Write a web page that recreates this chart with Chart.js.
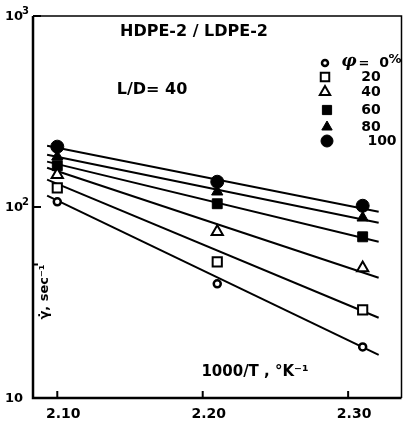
<!DOCTYPE html>
<html>
<head>
<meta charset="utf-8">
<script src="https://cdn.jsdelivr.net/npm/chart.js@4/dist/chart.umd.min.js"></script>
<style>
  body { margin: 0; background: #fff; }
</style>
</head>
<body>
<canvas id="mainChart" width="410" height="422"></canvas>
<script>
// temperatures (1000/T) where shear rate was measured
const xValues = [2.10, 2.21, 2.31];

// measured shear rates, sec^-1, one array per blend ratio
const phi0 = [106.5, 39.6, 18.5];
const phi20 = [126, 51.6, 28.9];
const phi40 = [147.6, 74.2, 48.0];
const phi60 = [164.5, 104, 69.8];
const phi80 = [183.4, 120.2, 87.8];
const phi100 = [207, 135.6, 101.5];

// drawn fit lines: end points
const fitX = [2.093, 2.321];
const fit0 = [114.6, 16.8];
const fit20 = [139, 26.3];
const fit40 = [160.6, 42.6];
const fit60 = [172.8, 65.7];
const fit80 = [187.9, 82.7];
const fit100 = [209.4, 94.4];

const phiLabels = ['0', '20', '40', '60', '80', '100'];
const xTicks = [2.10, 2.20, 2.30];
const yTicks = [10, 100, 1000];
const yTickExp = ['', '2', '3'];
const yMinorTicks = [50];

const toPoints = (xs, ys) => xs.map((x, i) => ({ x: x, y: ys[i] }));

const markers = [
  { pointStyle: 'circle', radius: 3.5, borderWidth: 2.5, fill: '#fff' },
  { pointStyle: 'rect', radius: 6.5, borderWidth: 2, fill: '#fff' },
  { pointStyle: 'triangle', radius: 6.5, borderWidth: 2, fill: '#fff' },
  { pointStyle: 'rect', radius: 7, borderWidth: 1, fill: '#000' },
  { pointStyle: 'triangle', radius: 6.5, borderWidth: 1, fill: '#000' },
  { pointStyle: 'circle', radius: 6.5, borderWidth: 1, fill: '#000' }
];

const series = [phi0, phi20, phi40, phi60, phi80, phi100];
const fits = [fit0, fit20, fit40, fit60, fit80, fit100];

const datasets = [];
fits.forEach((f) => {
  datasets.push({
    data: toPoints(fitX, f),
    showLine: true,
    borderColor: '#000',
    borderWidth: 2,
    pointRadius: 0,
    order: 2
  });
});
series.forEach((s, i) => {
  const m = markers[i];
  datasets.push({
    data: toPoints(xValues, s),
    showLine: false,
    pointStyle: m.pointStyle,
    pointRadius: m.radius,
    pointBorderWidth: m.borderWidth,
    pointBackgroundColor: m.fill,
    pointBorderColor: '#000',
    order: 1
  });
});

// frame, inward ticks, y labels with exponents and the text inside the plot
const decorations = {
  id: 'decorations',
  afterDraw(chart) {
    const ctx = chart.ctx;
    const a = chart.chartArea;
    const xs = chart.scales.x;
    const ys = chart.scales.y;
    ctx.save();
    ctx.strokeStyle = '#000';
    ctx.fillStyle = '#000';

    // frame
    ctx.lineWidth = 1.5;
    ctx.beginPath();
    ctx.moveTo(a.left, a.top);
    ctx.lineTo(a.right, a.top);
    ctx.lineTo(a.right, a.bottom);
    ctx.stroke();
    ctx.lineWidth = 2.5;
    ctx.beginPath();
    ctx.moveTo(a.left, a.top);
    ctx.lineTo(a.left, a.bottom);
    ctx.lineTo(a.right, a.bottom);
    ctx.stroke();

    // ticks
    ctx.lineWidth = 2;
    xTicks.forEach((v) => {
      const px = xs.getPixelForValue(v);
      ctx.beginPath();
      ctx.moveTo(px, a.bottom);
      ctx.lineTo(px, a.bottom - 7);
      ctx.stroke();
    });
    yTicks.concat(yMinorTicks).forEach((v) => {
      const py = ys.getPixelForValue(v);
      const len = yMinorTicks.includes(v) ? 5 : 8;
      ctx.beginPath();
      ctx.moveTo(a.left, py);
      ctx.lineTo(a.left + len, py);
      ctx.stroke();
    });

    // y tick labels: 10, 10^2, 10^3
    ctx.textBaseline = 'middle';
    ctx.textAlign = 'left';
    yTicks.forEach((v, i) => {
      const py = ys.getPixelForValue(v);
      ctx.font = 'bold 13px "DejaVu Sans"';
      ctx.fillText('10', 5, py + 1);
      if (yTickExp[i]) {
        ctx.font = 'bold 10px "DejaVu Sans"';
        ctx.fillText(yTickExp[i], 22, py - 5);
      }
    });

    // titles
    ctx.textAlign = 'center';
    ctx.font = 'bold 16px "DejaVu Sans"';
    ctx.fillText('HDPE-2 / LDPE-2', 194, 32);
    ctx.fillText('L/D= 40', 152, 90);
    ctx.font = 'bold 15px "DejaVu Sans"';
    ctx.fillText('1000/T , °K⁻¹', 255, 372);

    ctx.save();
    ctx.translate(45, 292);
    ctx.rotate(-Math.PI / 2);
    ctx.font = 'bold 13px "DejaVu Sans"';
    ctx.fillText('γ̇, sec⁻¹', 0, 0);
    ctx.restore();

    // legend
    const rowY = [63, 77, 92, 110, 127, 141];
    const markX = [325, 325, 325, 327, 327, 327];
    const textX = [384, 371, 371, 371, 371, 382];
    markers.forEach((m, i) => {
      ctx.save();
      ctx.fillStyle = m.fill;
      ctx.strokeStyle = '#000';
      ctx.lineWidth = m.borderWidth;
      Chart.helpers.drawPoint(ctx, {
        pointStyle: m.pointStyle,
        radius: m.radius - 0.5,
        borderWidth: m.borderWidth,
        rotation: 0
      }, markX[i], rowY[i]);
      ctx.restore();
      ctx.font = 'bold 14px "DejaVu Sans"';
      ctx.textAlign = 'center';
      ctx.fillText(phiLabels[i], textX[i], rowY[i]);
    });
    ctx.font = 'bold 13px "DejaVu Sans"';
    ctx.fillText('%', 395, 60);
    ctx.font = 'italic bold 17px "DejaVu Serif"';
    ctx.fillText('φ', 349, 62);
    ctx.font = 'bold 13px "DejaVu Sans"';
    ctx.fillText('=', 364, 64);
    ctx.restore();
  }
};

const ctxMain = document.getElementById('mainChart').getContext('2d');
const mainChart = new Chart(ctxMain, {
  type: 'scatter',
  data: { datasets: datasets },
  options: {
    responsive: false,
    animation: false,
    layout: { padding: { left: 0, top: 16, right: 2, bottom: 0 } },
    plugins: {
      legend: { display: false },
      tooltip: { enabled: false }
    },
    scales: {
      x: {
        type: 'linear',
        min: 2.0833,
        max: 2.3367,
        grid: { display: false },
        border: { display: false },
        afterBuildTicks: (scale) => { scale.ticks = xTicks.map((v) => ({ value: v })); },
        afterFit: (scale) => { scale.height = 24; },
        ticks: {
          padding: 0,
          labelOffset: 6,
          color: '#000',
          font: { family: 'DejaVu Sans', size: 14, weight: 'bold' },
          callback: (v) => v.toFixed(2)
        }
      },
      y: {
        type: 'logarithmic',
        min: 10,
        max: 1000,
        grid: { display: false },
        border: { display: false },
        afterBuildTicks: (scale) => { scale.ticks = yTicks.map((v) => ({ value: v })); },
        afterFit: (scale) => { scale.width = 33; },
        ticks: {
          color: 'rgba(0,0,0,0)',
          font: { family: 'DejaVu Sans', size: 13, weight: 'bold' }
        }
      }
    }
  },
  plugins: [decorations]
});
</script>
</body>
</html>
